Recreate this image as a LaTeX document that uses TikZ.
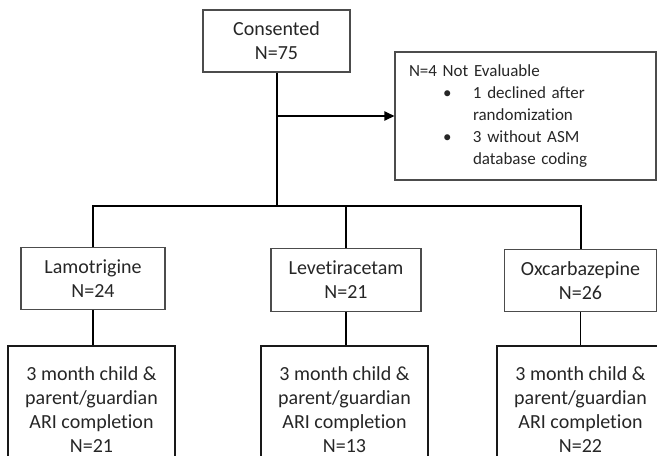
\documentclass[tikz,border=0pt]{standalone}
\usepackage{fontspec}
\setmainfont{Carlito}[Ligatures=NoCommon]
\usetikzlibrary{arrows.meta}
\begin{document}
\begin{tikzpicture}[x=0.75pt,y=-0.75pt,line width=1.5pt,>={Triangle[length=7.5pt,width=7pt]},
		box/.style={draw=black!70,line width=0.9pt,text=black!85,align=center,inner sep=0pt,
			font=\fontsize{15}{18}\selectfont},
		notebox/.style={draw=black!70,line width=0.9pt,text=black!85,align=left,inner xsep=10.5pt,
			text width=174.75pt,minimum height=96pt,font=\fontsize{12.75}{16.5}\selectfont},
		drugbox/.style={box,minimum height=47pt},
		ribox/.style={box,draw=black!90,minimum width=125.25pt,minimum height=99pt}]
			\useasboundingbox (0,0) rectangle (657,455);
			\clip (0,0) rectangle (657,455);
			\node[box,minimum width=110.25pt,minimum height=46.5pt] (cons) at (276.5,41) {Consented\\N=75};
			\node[notebox] (noteval) at (525.5,116) {N=4 Not Evaluable\\
				\hspace*{25.5pt}\makebox[22.5pt][l]{\textbullet}1 declined after\\
				\hspace*{48pt}randomization\\
				\hspace*{25.5pt}\makebox[22.5pt][l]{\textbullet}3 without ASM\\
				\hspace*{48pt}database coding};
			\coordinate (bus) at (0,206);
			\node[drugbox,minimum width=108pt] (lam) at (93,278.5) {Lamotrigine\\N=24};
			\node[drugbox,minimum width=112.5pt] (lev) at (346,280) {Levetiracetam\\N=21};
			\node[drugbox,minimum width=114pt] (oxc) at (580.5,280.5) {Oxcarbazepine\\N=26};
			\node[ribox,minimum height=96pt] (lamc) at (91.5,410) {3 month child \&\\parent/guardian\\ARI completion\\N=21};
			\node[ribox,minimum height=96pt] (levc) at (344.5,410) {3 month child \&\\parent/guardian\\ARI completion\\N=13};
			\node[ribox,minimum height=96pt] (oxcc) at (580.5,410) {3 month child \&\\parent/guardian\\ARI completion\\N=22};
			\draw (cons.south) -- (cons.south |- bus);
			\draw[->,line width=0.9pt] (cons.south |- noteval.west) -- (noteval.west);
			\draw (lam.north) -- (lam.north |- bus) -- (oxc.north |- bus) -- (oxc.north);
			\draw (lev.north) -- (lev.north |- bus);
			\draw (lam.south) -- (lam.south |- lamc.north);
			\draw (lev.south) -- (lev.south |- levc.north);
			\draw[line width=0.8pt] (oxc.south) -- (oxc.south |- oxcc.north);
		\end{tikzpicture}
\end{document}
